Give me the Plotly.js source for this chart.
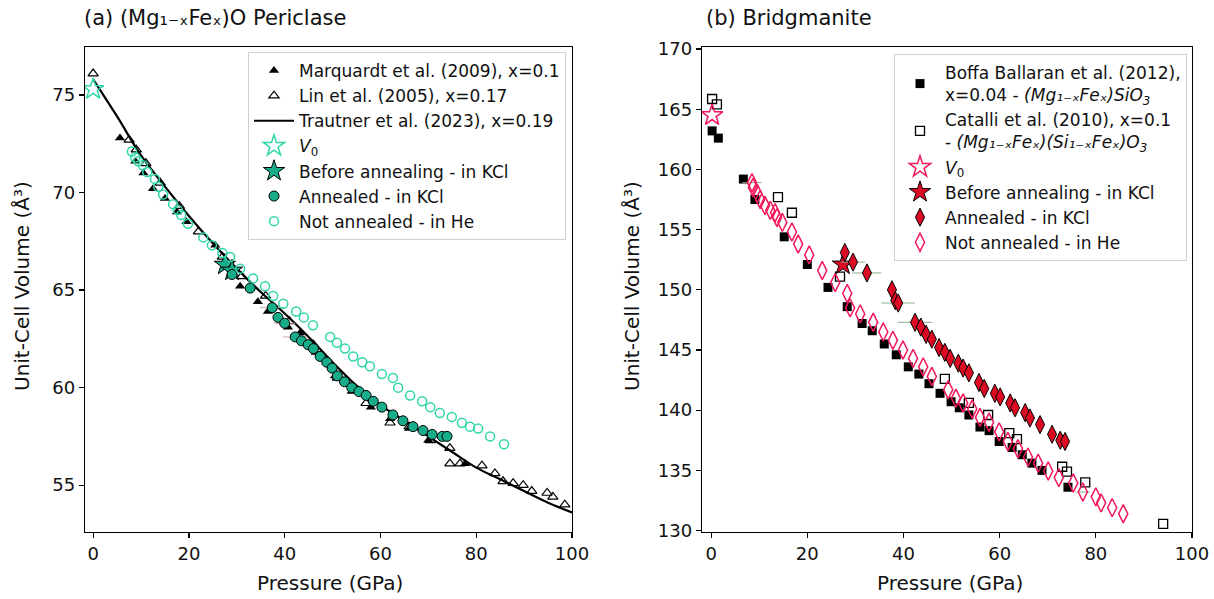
<!DOCTYPE html>
<html><head><meta charset="utf-8">
<script src="https://cdn.plot.ly/plotly-3.0.1.min.js"></script>
<style>html,body{margin:0;padding:0;background:#fff}</style>
</head><body>
<div id="chart" style="width:1214px;height:599px"></div>
<script>
// ---------- Panel (a) Periclase ----------
const marqP = [5.6, 8.8, 10.5, 12.5, 15.0, 17.5, 19.5, 25.5, 28.0, 30.7, 34.4, 36.5, 40.7, 43.2, 46.5, 50.5, 54.0, 58.0, 62.0, 66.0, 70.0, 77.7];
const marqV = [72.8, 71.6, 71.0, 70.2, 69.7, 69.0, 68.5, 67.3, 66.4, 65.2, 64.4, 63.9, 63.1, 62.8, 61.8, 60.6, 59.8, 59.0, 58.4, 57.9, 57.3, 56.1];

const linP = [0, 7.5, 9.0, 11.0, 14.0, 18.0, 22.0, 27.0, 31.0, 36.0, 41.0, 46.0, 51.0, 57.0, 62.0, 66.0, 70.4, 74.5, 74.5, 76.6, 81.2, 83.9, 85.6, 87.7, 89.8, 91.6, 94.8, 96.0, 98.5];
const linV = [76.1, 72.7, 72.2, 71.5, 70.5, 69.3, 68.0, 66.7, 65.7, 64.7, 63.4, 62.2, 60.5, 59.2, 58.2, 58.0, 57.3, 56.9, 56.1, 56.1, 56.0, 55.6, 55.2, 55.1, 55.0, 54.7, 54.6, 54.4, 54.0];

const trautP = [0, 5, 10, 15, 20, 25, 30, 35, 40, 45, 50, 55, 60, 65, 70, 75, 80, 85, 90, 95, 100];
const trautV = [75.8, 73.9, 71.9, 70.3, 68.8, 67.4, 66.1, 64.9, 63.8, 62.6, 61.3, 60.1, 59.1, 58.3, 57.5, 56.7, 55.9, 55.3, 54.7, 54.1, 53.6];

const perV0P = [0];
const perV0V = [75.3];

const perBeforeP = [27.5, 29.0];
const perBeforeV = [66.3, 66.0];

const perAnnP = [29.0, 32.8, 37.4, 38.6, 40.0, 42.2, 43.5, 44.9, 46.0, 47.4, 48.8, 49.9, 51.0, 52.5, 54.0, 55.5, 57.0, 58.5, 60.3, 62.6, 64.7, 66.8, 68.9, 70.8, 72.9, 73.9];
const perAnnV = [65.8, 65.1, 64.1, 63.6, 63.3, 62.6, 62.4, 62.2, 62.0, 61.6, 61.3, 61.0, 60.6, 60.3, 60.0, 59.8, 59.6, 59.3, 59.0, 58.6, 58.3, 58.0, 57.8, 57.6, 57.5, 57.5];
const perAnnErr = [0, 0, 2.5, 0, 2.2, 2.5, 0, 0, 0, 0, 0, 0, 0, 0, 0, 0, 0, 0, 0, 0, 0, 0, 0, 0, 0, 0];

const perHeP = [8.1, 8.8, 9.4, 10.4, 11.3, 12.9, 13.6, 14.6, 16.7, 17.7, 18.4, 19.8, 23.0, 24.8, 27.0, 28.6, 30.7, 33.4, 35.9, 37.6, 39.7, 42.4, 44.0, 45.9, 49.5, 50.9, 52.6, 54.3, 56.2, 57.8, 60.3, 62.6, 63.7, 66.2, 68.7, 70.4, 72.4, 74.9, 77.0, 78.7, 80.4, 82.9, 85.8];
const perHeV = [72.1, 71.8, 71.6, 71.4, 71.05, 70.7, 70.3, 69.9, 69.4, 69.1, 68.85, 68.4, 67.7, 67.3, 66.9, 66.7, 66.1, 65.6, 65.2, 64.7, 64.3, 63.9, 63.6, 63.2, 62.6, 62.3, 62.0, 61.6, 61.3, 61.1, 60.7, 60.5, 60.0, 59.6, 59.3, 59.0, 58.7, 58.5, 58.2, 58.0, 57.9, 57.5, 57.1];

// ---------- Panel (b) Bridgmanite ----------
const boffaP = [0.2, 1.5, 6.7, 9.1, 15.2, 20.0, 24.3, 28.3, 31.4, 33.5, 36.0, 38.5, 41.0, 43.2, 45.3, 47.6, 49.9, 51.6, 53.6, 55.9, 57.8, 59.9, 62.6, 64.7, 66.7, 68.8, 74.2];
const boffaV = [163.2, 162.6, 159.2, 157.5, 154.4, 152.1, 150.2, 148.6, 147.2, 146.6, 145.5, 144.6, 143.6, 143.0, 142.2, 141.4, 140.7, 140.2, 139.6, 138.6, 138.3, 137.4, 136.9, 136.3, 135.6, 135.0, 133.6];

const catP = [0.2, 1.2, 13.9, 16.8, 26.8, 48.6, 53.6, 57.6, 62.0, 63.6, 73.0, 74.0, 77.8, 94.0];
const catV = [165.85, 165.4, 157.7, 156.4, 151.1, 142.6, 140.6, 139.6, 138.1, 137.6, 135.3, 134.9, 134.0, 130.55];

const brV0P = [0.2];
const brV0V = [164.5];

const brBeforeP = [27.4];
const brBeforeV = [152.1];

const brAnnP = [27.8, 29.5, 32.4, 37.6, 38.3, 38.9, 42.4, 43.6, 44.7, 45.9, 47.4, 48.6, 49.7, 51.4, 52.4, 53.6, 55.7, 56.8, 59.0, 60.1, 62.2, 63.2, 65.3, 66.3, 68.4, 70.9, 72.6, 73.6];
const brAnnV = [153.1, 152.3, 151.4, 150.0, 149.1, 148.9, 147.3, 146.9, 146.3, 145.9, 145.2, 144.8, 144.3, 143.9, 143.5, 143.1, 142.3, 141.8, 141.4, 141.1, 140.6, 140.2, 139.8, 139.35, 138.8, 138.0, 137.5, 137.4];
const brAnnErr = [0, 2.5, 3.0, 0, 0, 3.5, 3.6, 0, 0, 0, 0, 0, 0, 0, 0, 0, 0, 0, 0, 0, 0, 0, 0, 0, 0, 0, 0, 0];

const brHeP = [8.5, 8.7, 9.6, 10.2, 11.2, 12.3, 13.3, 13.7, 14.8, 16.8, 18.1, 20.4, 23.1, 25.8, 28.3, 28.9, 31.0, 33.7, 35.8, 37.8, 39.9, 42.0, 44.1, 45.9, 49.3, 50.9, 52.4, 54.3, 55.9, 57.8, 59.9, 61.7, 63.8, 65.9, 68.0, 70.1, 72.3, 75.3, 77.3, 80.0, 81.1, 83.4, 85.7];
const brHeV = [158.9, 158.5, 158.0, 157.5, 157.0, 156.6, 156.4, 156.0, 155.6, 154.8, 153.8, 152.9, 151.6, 150.6, 149.7, 148.5, 148.0, 147.3, 146.5, 145.8, 145.0, 144.3, 143.6, 142.8, 141.7, 141.0, 140.6, 140.1, 139.4, 139.0, 138.2, 137.4, 136.8, 136.1, 135.6, 134.95, 134.4, 133.95, 133.2, 132.8, 132.3, 131.9, 131.4];
const brHeErr = [2, 0, 0, 0, 0, 0, 0, 0, 0, 0, 0, 0, 0, 0, 0, 0, 0, 0, 0, 0, 0, 0, 0, 0, 0, 0, 0, 0, 0, 0, 0, 0, 0, 0, 0, 0, 0, 0, 1.5, 0, 0, 0, 0];

const xTicks = [0, 20, 40, 60, 80, 100];

// ---------- styles ----------
const FONT = 'DejaVu Sans, Arial, sans-serif';
const gOpen = '#2fd6a8';
const gFill = '#18ad8a';
const rOpen = '#f2185a';
const rFill = '#dc0a22';

const traces = [
  {x: marqP, y: marqV, mode: 'markers', name: 'Marquardt et al. (2009), x=0.1', legend: 'legend',
   marker: {symbol: 'triangle-up', size: 9, color: 'black'}, xaxis: 'x', yaxis: 'y'},
  {x: linP, y: linV, mode: 'markers', name: 'Lin et al. (2005), x=0.17', legend: 'legend',
   marker: {symbol: 'triangle-up-open', size: 9, color: 'black', line: {width: 1.2}}, xaxis: 'x', yaxis: 'y'},
  {x: trautP, y: trautV, mode: 'lines', name: 'Trautner et al. (2023), x=0.19', legend: 'legend',
   line: {color: 'black', width: 2.2, shape: 'spline'}, xaxis: 'x', yaxis: 'y'},
  {x: perV0P, y: perV0V, mode: 'markers', name: '<i>V</i><sub>0</sub>', legend: 'legend',
   marker: {symbol: 'star-open', size: 16, color: gOpen, line: {width: 1.5}}, xaxis: 'x', yaxis: 'y'},
  {x: perBeforeP, y: perBeforeV, mode: 'markers', name: 'Before annealing - in KCl', legend: 'legend',
   marker: {symbol: 'star', size: 16, color: gFill, line: {color: 'black', width: 1}}, xaxis: 'x', yaxis: 'y'},
  {x: perAnnP, y: perAnnV, mode: 'markers', name: 'Annealed - in KCl', legend: 'legend',
   error_x: {type: 'data', array: perAnnErr, color: '#c9a3a3', thickness: 1, width: 0},
   marker: {symbol: 'circle', size: 10, color: gFill, line: {color: 'black', width: 1}}, xaxis: 'x', yaxis: 'y'},
  {x: perHeP, y: perHeV, mode: 'markers', name: 'Not annealed - in He', legend: 'legend',
   marker: {symbol: 'circle-open', size: 9, color: gOpen, line: {width: 1.5}}, xaxis: 'x', yaxis: 'y'},

  {x: boffaP, y: boffaV, mode: 'markers', name: 'Boffa Ballaran et al. (2012),<br>x=0.04 - <i>(Mg₁₋ₓFeₓ)SiO<sub>3</sub></i>', legend: 'legend2',
   marker: {symbol: 'square', size: 9, color: 'black'}, xaxis: 'x2', yaxis: 'y2'},
  {x: catP, y: catV, mode: 'markers', name: 'Catalli et al. (2010), x=0.1<br>- <i>(Mg₁₋ₓFeₓ)(Si₁₋ₓFeₓ)O<sub>3</sub></i>', legend: 'legend2',
   marker: {symbol: 'square-open', size: 9, color: 'black', line: {width: 1.3}}, xaxis: 'x2', yaxis: 'y2'},
  {x: brV0P, y: brV0V, mode: 'markers', name: '<i>V</i><sub>0</sub>', legend: 'legend2',
   marker: {symbol: 'star-open', size: 16, color: rOpen, line: {width: 1.5}}, xaxis: 'x2', yaxis: 'y2'},
  {x: brBeforeP, y: brBeforeV, mode: 'markers', name: 'Before annealing - in KCl', legend: 'legend2',
   marker: {symbol: 'star', size: 16, color: rFill, line: {color: 'black', width: 1}}, xaxis: 'x2', yaxis: 'y2'},
  {x: brAnnP, y: brAnnV, mode: 'markers', name: 'Annealed - in KCl', legend: 'legend2',
   error_x: {type: 'data', array: brAnnErr, color: '#8fb08f', thickness: 1, width: 0},
   marker: {symbol: 'diamond-tall', size: 13, color: rFill, line: {color: 'black', width: 1}}, xaxis: 'x2', yaxis: 'y2'},
  {x: brHeP, y: brHeV, mode: 'markers', name: 'Not annealed - in He', legend: 'legend2',
   error_x: {type: 'data', array: brHeErr, color: '#8fb08f', thickness: 1, width: 0},
   marker: {symbol: 'diamond-tall-open', size: 13, color: rOpen, line: {width: 1.5}}, xaxis: 'x2', yaxis: 'y2'}
];

const axisCommon = {
  showline: true, mirror: true, linecolor: 'black', linewidth: 1.2,
  ticks: 'outside', ticklen: 5, tickwidth: 1.2, tickcolor: 'black',
  showgrid: false, zeroline: false, tickfont: {size: 18, color: '#111', family: FONT}
};

const legendCommon = {
  bgcolor: 'rgba(255,255,255,0.85)', bordercolor: '#d0d0d0', borderwidth: 1,
  font: {size: 17, family: FONT, color: '#111'}, xref: 'paper', yref: 'paper',
  xanchor: 'right', yanchor: 'top', itemwidth: 40, tracegroupgap: 0
};

const layout = {
  width: 1214, height: 599,
  margin: {l: 0, r: 0, t: 0, b: 0},
  paper_bgcolor: 'white', plot_bgcolor: 'white',
  font: {family: FONT, color: '#111'},
  showlegend: true,
  xaxis: Object.assign({}, axisCommon, {domain: [85/1214, 572/1214], range: [-1.7, 100], tickvals: xTicks, anchor: 'y'}),
  yaxis: Object.assign({}, axisCommon, {domain: [1-532/599, 1-47/599], range: [52.6, 77.46], dtick: 5, tick0: 0, anchor: 'x'}),
  xaxis2: Object.assign({}, axisCommon, {domain: [702/1214, 1192/1214], range: [-1.9, 100], tickvals: xTicks, anchor: 'y2'}),
  yaxis2: Object.assign({}, axisCommon, {domain: [1-532/599, 1-47/599], range: [129.88, 170.17], dtick: 5, tick0: 0, anchor: 'x2'}),
  legend: Object.assign({}, legendCommon, {x: 566/1214, y: 1-52/599}),
  legend2: Object.assign({}, legendCommon, {x: 1187/1214, y: 1-54/599}),
  annotations: [
    {text: '(a) (Mg₁₋ₓFeₓ)O Periclase', xref: 'paper', yref: 'paper', x: 82/1214, y: 1-18/599, xanchor: 'left', yanchor: 'middle', showarrow: false, font: {size: 21, family: FONT, color: '#111'}},
    {text: '(b) Bridgmanite', xref: 'paper', yref: 'paper', x: 704/1214, y: 1-18/599, xanchor: 'left', yanchor: 'middle', showarrow: false, font: {size: 21, family: FONT, color: '#111'}},
    {text: 'Pressure (GPa)', xref: 'paper', yref: 'paper', x: 330/1214, y: 1-583/599, xanchor: 'center', yanchor: 'middle', showarrow: false, font: {size: 20, family: FONT, color: '#111'}},
    {text: 'Pressure (GPa)', xref: 'paper', yref: 'paper', x: 950/1214, y: 1-583/599, xanchor: 'center', yanchor: 'middle', showarrow: false, font: {size: 20, family: FONT, color: '#111'}},
    {text: 'Unit-Cell Volume (Å³)', xref: 'paper', yref: 'paper', x: 22/1214, y: 1-286/599, xanchor: 'center', yanchor: 'middle', textangle: -90, showarrow: false, font: {size: 20, family: FONT, color: '#111'}},
    {text: 'Unit-Cell Volume (Å³)', xref: 'paper', yref: 'paper', x: 632/1214, y: 1-286/599, xanchor: 'center', yanchor: 'middle', textangle: -90, showarrow: false, font: {size: 20, family: FONT, color: '#111'}}
  ]
};

Plotly.newPlot('chart', traces, layout, {staticPlot: true, displayModeBar: false});
</script>
</body></html>
